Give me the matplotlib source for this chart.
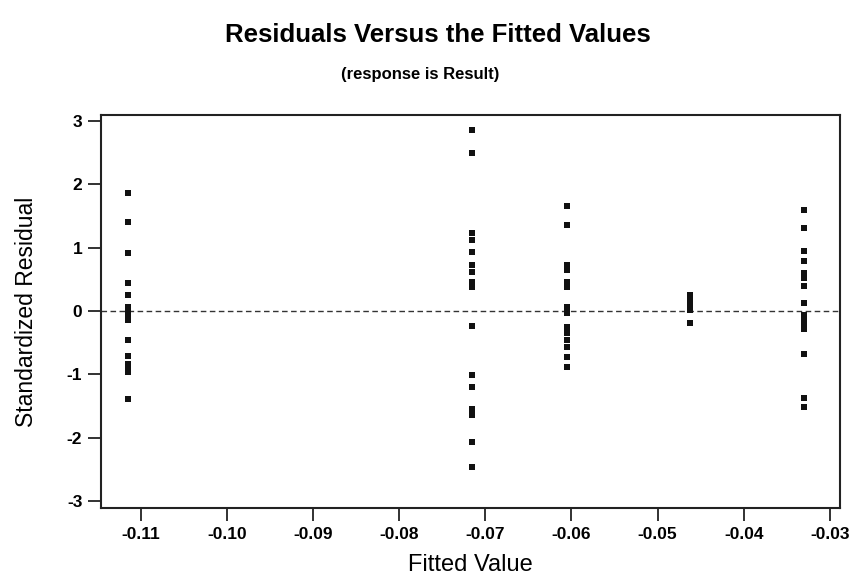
import matplotlib
matplotlib.use("Agg")
import matplotlib.pyplot as plt

plt.rcParams['font.family'] = ['Liberation Sans', 'DejaVu Sans']
plt.rcParams['axes.unicode_minus'] = False

# Fitted value of each group
fit_1 = -0.1115
fit_2 = -0.0716
fit_3 = -0.0605
fit_4 = -0.0462
fit_5 = -0.0330

res_1 = [1.86, 1.41, 0.91, 0.45, 0.25, 0.06, 0.00, -0.06, -0.14, -0.46, -0.71, -0.83, -0.91, -0.96, -1.39]
res_2 = [2.86, 2.50, 1.23, 1.12, 0.94, 0.73, 0.62, 0.46, 0.38, -0.24, -1.01, -1.20, -1.54, -1.64, -2.06, -2.46]
res_3 = [1.66, 1.36, 0.73, 0.65, 0.46, 0.38, 0.07, -0.03, -0.25, -0.35, -0.46, -0.56, -0.72, -0.88]
res_4 = [0.25, 0.19, 0.12, 0.06, 0.01, -0.19]
res_5 = [1.60, 1.31, 0.95, 0.79, 0.60, 0.52, 0.39, 0.12, -0.06, -0.14, -0.19, -0.29, -0.68, -1.38, -1.51]

x_ticks = [-0.11, -0.10, -0.09, -0.08, -0.07, -0.06, -0.05, -0.04, -0.03]
x_tick_labels = ["-0.11", "-0.10", "-0.09", "-0.08", "-0.07", "-0.06", "-0.05", "-0.04", "-0.03"]
y_ticks = [-3, -2, -1, 0, 1, 2, 3]

title = "Residuals Versus the Fitted Values"
subtitle = "(response is Result)"
xlabel = "Fitted Value"
ylabel = "Standardized Residual"

fig = plt.figure(figsize=(8.51, 5.80), dpi=100)
ax = fig.add_axes([0.1187, 0.1241, 0.868, 0.6776])

groups = [(fit_1, res_1), (fit_2, res_2), (fit_3, res_3), (fit_4, res_4), (fit_5, res_5)]
for fx, rs in groups:
    ax.plot([fx] * len(rs), rs, linestyle='none', marker='s', markersize=4.4,
            color='#111111', markeredgewidth=0)

ax.axhline(0, color='#333333', linestyle=(0, (4, 2.5)), linewidth=1.0, zorder=0)

ax.set_xlim(-0.11466, -0.02884)
ax.set_ylim(-3.11, 3.095)
ax.set_xticks(x_ticks)
ax.set_xticklabels(x_tick_labels)
ax.set_yticks(y_ticks)
ax.tick_params(direction='out', length=9.5, width=1.3, labelsize=12.5, color='#222222', pad=4)
for lab in ax.get_xticklabels() + ax.get_yticklabels():
    lab.set_fontweight('bold')
for sp in ax.spines.values():
    sp.set_linewidth(1.5)
    sp.set_color('#222222')

ax.set_xlabel(xlabel, fontsize=17, labelpad=9)
ax.set_ylabel(ylabel, fontsize=16.5, labelpad=21)

fig.text(0.515, 0.94, title, ha='center', va='center', fontsize=18.5, fontweight='bold')
fig.text(0.494, 0.872, subtitle, ha='center', va='center', fontsize=12, fontweight='bold')

fig.savefig("out.png", dpi=100, facecolor='white')
